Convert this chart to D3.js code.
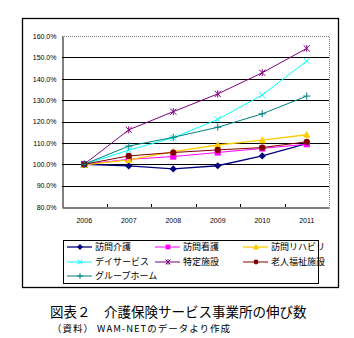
<!DOCTYPE html>
<html>
<head>
<meta charset="utf-8">
<script src="https://cdn.jsdelivr.net/npm/d3@7"></script>
<style>
    html, body { margin: 0; padding: 0; background: #fff; }
    svg { display: block; }
</style>
</head>
<body>
<div id="chart"></div>
<script>
// 介護保険サービス事業所数の伸び（2006年 = 100%）
const years = ['2006', '2007', '2008', '2009', '2010', '2011'];
const yTicks = [80, 90, 100, 110, 120, 130, 140, 150, 160];

const houmonKaigo = [100, 99.2, 97.8, 99.3, 103.9, 109.6];
const houmonKango = [100, 102.3, 103.6, 105.5, 107.4, 109.4];
const houmonReha = [99.7, 102.0, 105.9, 109.0, 111.3, 113.8];
const dayService = [100, 106.6, 112.4, 121.0, 132.4, 148.3];
const tokuteiShisetsu = [100, 116.1, 124.6, 132.9, 142.8, 154.2];
const roujinFukushi = [100, 103.9, 105.5, 106.7, 107.8, 110.5];
const groupHome = [100, 108.5, 112.6, 117.3, 123.6, 131.9];

const series = [
    { name: '訪問介護', values: houmonKaigo, color: '#000080', marker: 'diamond' },
    { name: '訪問看護', values: houmonKango, color: '#ff00ff', marker: 'square' },
    { name: '訪問リハビリ', values: houmonReha, color: '#ffcc00', marker: 'triangle' },
    { name: 'デイサービス', values: dayService, color: '#00ffff', marker: 'cross' },
    { name: '特定施設', values: tokuteiShisetsu, color: '#800080', marker: 'star' },
    { name: '老人福祉施設', values: roujinFukushi, color: '#800000', marker: 'circle' },
    { name: 'グループホーム', values: groupHome, color: '#008080', marker: 'plus' }
];

const W = 354, H = 338;
const plot = { left: 62, top: 36, right: 329, bottom: 207 };
const labelFont = 'Arial, "Liberation Sans", sans-serif';
const jpFont = '"Noto Sans CJK JP", sans-serif';

const svg = d3.select('#chart').append('svg')
    .attr('width', W)
    .attr('height', H);

// outer chart frame
svg.append('rect')
    .attr('x', 22.5).attr('y', 18.5)
    .attr('width', 316).attr('height', 269)
    .attr('fill', '#fff')
    .attr('stroke', '#000')
    .attr('stroke-width', 1.3);

const x = d3.scaleBand().domain(years).range([plot.left, plot.right]);
const y = d3.scaleLinear().domain([80, 160]).range([plot.bottom, plot.top]);
const cx = d => x(d) + x.bandwidth() / 2;

// gridlines
svg.append('g')
    .selectAll('line')
    .data(yTicks.filter(v => v > 80 && v < 160))
    .join('line')
    .attr('x1', plot.left).attr('x2', plot.right)
    .attr('y1', d => Math.round(y(d)) + 0.5).attr('y2', d => Math.round(y(d)) + 0.5)
    .attr('stroke', '#000')
    .attr('stroke-width', 1);

// dotted plot-area border (top and right)
svg.append('path')
    .attr('d', `M${plot.left},${plot.top + 0.5}H${plot.right + 0.5}V${plot.bottom}`)
    .attr('fill', 'none')
    .attr('stroke', '#808080')
    .attr('stroke-width', 1)
    .attr('stroke-dasharray', '1,1');

// y axis
const yAxis = svg.append('g')
    .attr('transform', `translate(${plot.left + 0.5},0)`)
    .call(d3.axisLeft(y).tickValues(yTicks).tickSize(0).tickPadding(6)
        .tickFormat(d => d.toFixed(1) + '%'));
yAxis.select('.domain').attr('stroke', '#000');
yAxis.selectAll('text')
    .attr('font-family', labelFont)
    .attr('font-size', 7)
    .attr('fill', '#000');

// x axis, ticks pointing into the plot
const xAxis = svg.append('g')
    .attr('transform', `translate(0,${plot.bottom + 0.5})`)
    .call(d3.axisBottom(x).tickSize(0).tickPadding(11));
xAxis.select('.domain').attr('stroke', '#000');
xAxis.selectAll('text')
    .attr('font-family', labelFont)
    .attr('font-size', 7)
    .attr('fill', '#000');
svg.append('g')
    .selectAll('line')
    .data(years.slice(1))
    .join('line')
    .attr('x1', d => Math.round(x(d)) + 0.5).attr('x2', d => Math.round(x(d)) + 0.5)
    .attr('y1', plot.bottom).attr('y2', plot.bottom - 3)
    .attr('stroke', '#000');

// marker drawing
function drawMarker(g, type, color, s) {
    switch (type) {
        case 'diamond':
            g.append('path').attr('d', `M0,${-s - 0.5}L${s + 0.5},0L0,${s + 0.5}L${-s - 0.5},0Z`).attr('fill', color);
            break;
        case 'square':
            g.append('rect').attr('x', -s).attr('y', -s).attr('width', 2 * s).attr('height', 2 * s).attr('fill', color);
            break;
        case 'triangle':
            g.append('path').attr('d', `M0,${-s - 1}L${s + 0.5},${s}L${-s - 0.5},${s}Z`).attr('fill', color);
            break;
        case 'circle':
            g.append('circle').attr('r', s).attr('fill', color);
            break;
        case 'cross':
            g.append('path').attr('d', `M${-s},${-s}L${s},${s}M${-s},${s}L${s},${-s}`)
                .attr('stroke', color).attr('stroke-width', 1);
            break;
        case 'star':
            g.append('path').attr('d', `M${-s},${-s}L${s},${s}M${-s},${s}L${s},${-s}M0,${-s - 0.5}V${s + 0.5}`)
                .attr('stroke', color).attr('stroke-width', 1);
            break;
        case 'plus':
            g.append('path').attr('d', `M${-s - 0.5},0H${s + 0.5}M0,${-s - 0.5}V${s + 0.5}`)
                .attr('stroke', color).attr('stroke-width', 1);
            break;
    }
}

const line = d3.line()
    .x((d, i) => cx(years[i]))
    .y(d => y(d));

const strokeW = s => (s.marker === 'triangle' || s.marker === 'diamond') ? 1.3 : 1;

// series lines then markers
const seriesG = svg.append('g');
series.forEach(s => {
    seriesG.append('path')
        .datum(s.values)
        .attr('d', line)
        .attr('fill', 'none')
        .attr('stroke', s.color)
        .attr('stroke-width', strokeW(s));
});
series.forEach(s => {
    s.values.forEach((v, i) => {
        const g = seriesG.append('g').attr('transform', `translate(${cx(years[i])},${y(v)})`);
        drawMarker(g, s.marker, s.color, 3.1);
    });
});

// legend
const legend = svg.append('g');
legend.append('rect')
    .attr('x', 63.5).attr('y', 240.5)
    .attr('width', 255).attr('height', 43)
    .attr('fill', '#fff')
    .attr('stroke', '#000')
    .attr('stroke-width', 1);

const colX = [67, 155, 243];
const rowY = [247, 262, 276];
series.forEach((s, i) => {
    const lx = colX[i % 3], ly = rowY[Math.floor(i / 3)];
    const g = legend.append('g').attr('transform', `translate(${lx},${ly})`);
    g.append('line')
        .attr('x1', 0).attr('x2', 25)
        .attr('y1', 0).attr('y2', 0)
        .attr('stroke', s.color)
        .attr('stroke-width', strokeW(s));
    const m = g.append('g').attr('transform', 'translate(13,0)');
    drawMarker(m, s.marker, s.color, 2.4);
    g.append('text')
        .attr('x', 28).attr('y', 0)
        .attr('dy', '0.35em')
        .attr('font-family', jpFont)
        .attr('font-size', 9)
        .attr('fill', '#000')
        .text(s.name);
});

// captions
svg.append('text')
    .attr('x', 50).attr('y', 312)
    .attr('dy', '0.35em')
    .attr('font-family', jpFont)
    .attr('font-size', 13.5)
    .attr('fill', '#000')
    .text('図表２　介護保険サービス事業所の伸び数');

svg.append('text')
    .attr('x', 52).attr('y', 329)
    .attr('dy', '0.35em')
    .attr('font-family', jpFont)
    .attr('font-size', 9.5)
    .attr('textLength', 178)
    .attr('lengthAdjust', 'spacing')
    .attr('fill', '#000')
    .text('（資料） WAM-NETのデータより作成');
</script>
</body>
</html>
